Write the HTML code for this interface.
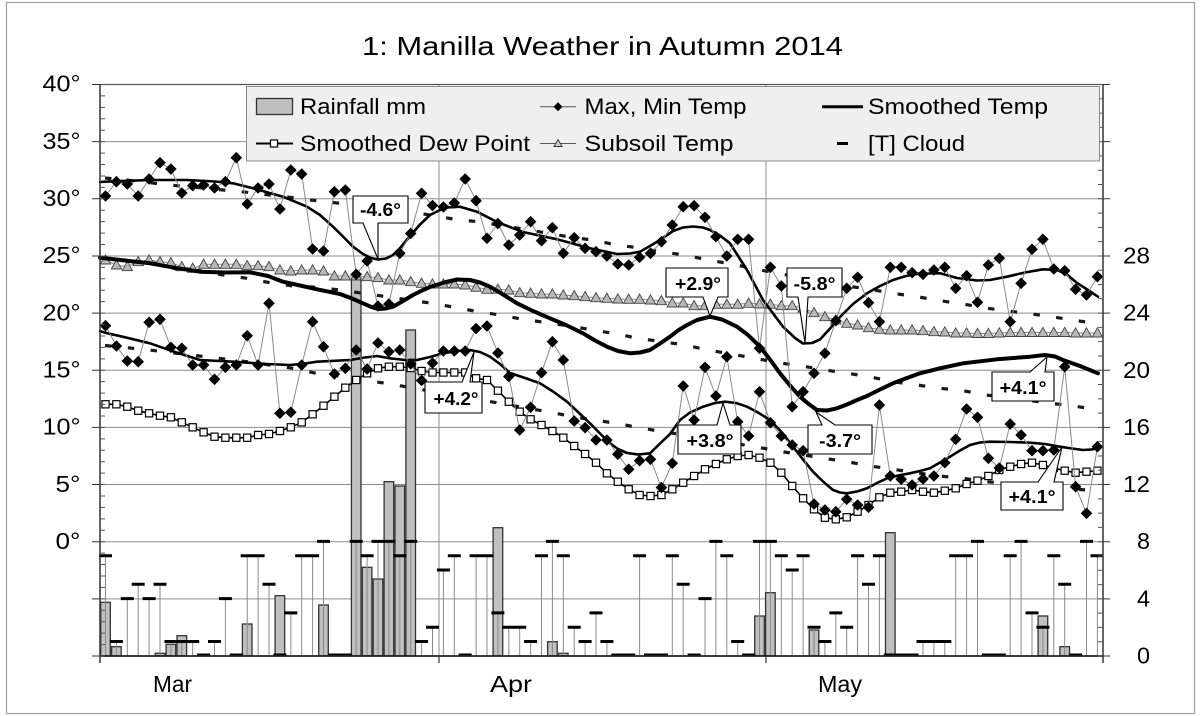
<!DOCTYPE html>
<html><head><meta charset="utf-8"><title>Manilla Weather in Autumn 2014</title>
<style>html,body{margin:0;padding:0;background:#fff}svg{display:block}text{font-family:"Liberation Sans",Arial,sans-serif;fill:#000}</style>
</head><body>
<svg width="1200" height="716" viewBox="0 0 1200 716" xmlns="http://www.w3.org/2000/svg">
<defs>
<marker id="mD" viewBox="-6 -6 12 12" refX="0" refY="0" markerWidth="12" markerHeight="12" markerUnits="userSpaceOnUse" orient="0" overflow="visible"><path d="M0,-5.8L5.8,0L0,5.8L-5.8,0Z" fill="#000"/></marker>
<marker id="mS" viewBox="-5 -5 10 10" refX="0" refY="0" markerWidth="10" markerHeight="10" markerUnits="userSpaceOnUse" orient="0" overflow="visible"><rect x="-3.6" y="-3.6" width="7.2" height="7.2" fill="#fff" stroke="#000" stroke-width="1.2"/></marker>
<marker id="mT" viewBox="-6 -6 12 12" refX="0" refY="0" markerWidth="12" markerHeight="12" markerUnits="userSpaceOnUse" orient="0" overflow="visible"><path d="M0,-5.2L5.2,4L-5.2,4Z" fill="#b8b8b8" stroke="#444" stroke-width="0.9"/></marker>
</defs>
<rect x="0" y="0" width="1200" height="716" fill="#fff"/>
<rect x="6.5" y="2.5" width="1188" height="711" fill="none" stroke="#a0a0a0" stroke-width="1.2"/>

<!-- gridlines -->
<g stroke="#8c8c8c" stroke-width="1" fill="none">
<path d="M100,141.65H1103M100,198.8H1103M100,255.95H1103M100,313.1H1103M100,370.25H1103M100,427.4H1103M100,484.55H1103M100,541.7H1103M100,598.85H1103"/>
<path d="M439,84.5V663M766,84.5V663"/>
</g>

<!-- rain bars -->
<g fill="#c0c0c0" stroke="#333" stroke-width="1.3">
<rect x="100.7" y="602.3" width="9.6" height="53.5"/>
<rect x="111.6" y="646.7" width="9.6" height="9.1"/>
<rect x="155.2" y="653.3" width="9.6" height="2.5"/>
<rect x="166.1" y="644.3" width="9.6" height="11.5"/>
<rect x="177" y="635.7" width="9.6" height="20.1"/>
<rect x="242.4" y="624" width="9.6" height="31.8"/>
<rect x="275.1" y="595.7" width="9.6" height="60.1"/>
<rect x="318.7" y="605" width="9.6" height="50.8"/>
<rect x="351.4" y="278" width="9.6" height="377.8"/>
<rect x="362.3" y="567.3" width="9.6" height="88.5"/>
<rect x="373.2" y="579" width="9.6" height="76.8"/>
<rect x="384.1" y="481.7" width="9.6" height="174.1"/>
<rect x="395" y="486" width="9.6" height="169.8"/>
<rect x="405.9" y="330" width="9.6" height="325.8"/>
<rect x="493.1" y="527.7" width="9.6" height="128.1"/>
<rect x="547.6" y="641.7" width="9.6" height="14.1"/>
<rect x="558.5" y="653.3" width="9.6" height="2.5"/>
<rect x="754.7" y="616" width="9.6" height="39.8"/>
<rect x="765.6" y="592.7" width="9.6" height="63.1"/>
<rect x="809.2" y="630" width="9.6" height="25.8"/>
<rect x="885.5" y="532.7" width="9.6" height="123.1"/>
<rect x="1038.1" y="616" width="9.6" height="39.8"/>
<rect x="1059.9" y="646.7" width="9.6" height="9.1"/>
</g>

<!-- cloud drop lines -->
<path fill="none" stroke="#8a8a8a" stroke-width="1" d="M105.5,555.7V656 M116.4,641.5V656 M127.3,598.6V656 M138.2,584.3V656 M149.1,598.6V656 M160,584.3V656 M170.9,641.5V656 M181.8,641.5V656 M192.7,641.5V656 M214.5,641.5V656 M225.4,598.6V656 M247.2,555.7V656 M258.1,555.7V656 M269,584.3V656 M290.8,612.9V656 M301.7,555.7V656 M312.6,555.7V656 M323.5,541.4V656 M356.2,541.4V656 M367.1,555.7V656 M378,541.4V656 M388.9,541.4V656 M399.8,555.7V656 M410.7,541.4V656 M421.6,641.5V656 M432.5,627.2V656 M443.4,570V656 M454.3,555.7V656 M476.1,555.7V656 M487,555.7V656 M497.9,612.9V656 M508.8,627.2V656 M519.7,627.2V656 M530.6,641.5V656 M541.5,555.7V656 M552.4,541.4V656 M563.3,555.7V656 M574.2,627.2V656 M585.1,641.5V656 M596,612.9V656 M606.9,641.5V656 M639.6,555.7V656 M672.3,555.7V656 M683.2,584.3V656 M705,598.6V656 M715.9,541.4V656 M726.8,555.7V656 M737.7,641.5V656 M759.5,541.4V656 M770.4,541.4V656 M781.3,555.7V656 M792.2,570V656 M803.1,555.7V656 M814,627.2V656 M824.9,641.5V656 M835.8,612.9V656 M846.7,627.2V656 M857.6,555.7V656 M868.5,584.3V656 M879.4,555.7V656 M923,641.5V656 M933.9,641.5V656 M944.8,641.5V656 M955.7,555.7V656 M966.6,555.7V656 M977.5,541.4V656 M1010.2,555.7V656 M1021.1,541.4V656 M1032,612.9V656 M1042.9,627.2V656 M1053.8,555.7V656 M1064.7,584.3V656 M1086.5,541.4V656 M1097.4,555.7V656"/>

<!-- cloud dashes -->
<path fill="none" stroke="#000" stroke-width="3" d="M99,555.7h13 M109.9,641.5h13 M120.8,598.6h13 M131.7,584.3h13 M142.6,598.6h13 M153.5,584.3h13 M164.4,641.5h13 M175.3,641.5h13 M186.2,641.5h13 M197.1,655h13 M208,641.5h13 M218.9,598.6h13 M229.8,655h13 M240.7,555.7h13 M251.6,555.7h13 M262.5,584.3h13 M273.4,655h13 M284.3,612.9h13 M295.2,555.7h13 M306.1,555.7h13 M317,541.4h13 M327.9,655h13 M338.8,655h13 M349.7,541.4h13 M360.6,555.7h13 M371.5,541.4h13 M382.4,541.4h13 M393.3,555.7h13 M404.2,541.4h13 M415.1,641.5h13 M426,627.2h13 M436.9,570h13 M447.8,555.7h13 M458.7,655h13 M469.6,555.7h13 M480.5,555.7h13 M491.4,612.9h13 M502.3,627.2h13 M513.2,627.2h13 M524.1,641.5h13 M535,555.7h13 M545.9,541.4h13 M556.8,555.7h13 M567.7,627.2h13 M578.6,641.5h13 M589.5,612.9h13 M600.4,641.5h13 M611.3,655h13 M622.2,655h13 M633.1,555.7h13 M644,655h13 M654.9,655h13 M665.8,555.7h13 M676.7,584.3h13 M687.6,655h13 M698.5,598.6h13 M709.4,541.4h13 M720.3,555.7h13 M731.2,641.5h13 M742.1,655h13 M753,541.4h13 M763.9,541.4h13 M774.8,555.7h13 M785.7,570h13 M796.6,555.7h13 M807.5,627.2h13 M818.4,641.5h13 M829.3,612.9h13 M840.2,627.2h13 M851.1,555.7h13 M862,584.3h13 M872.9,555.7h13 M883.8,655h13 M894.7,655h13 M905.6,655h13 M916.5,641.5h13 M927.4,641.5h13 M938.3,641.5h13 M949.2,555.7h13 M960.1,555.7h13 M971,541.4h13 M981.9,655h13 M992.8,655h13 M1003.7,555.7h13 M1014.6,541.4h13 M1025.5,612.9h13 M1036.4,627.2h13 M1047.3,555.7h13 M1058.2,584.3h13 M1069.1,655h13 M1080,541.4h13 M1090.5,555.7h12.5"/>

<!-- average dashed lines -->
<g fill="none" stroke="#1a1a1a" stroke-width="3.2" stroke-dasharray="6.5 16.4">
<path d="M105,178 L132,180.7 L155,183.3 L177,185.7 L200,187.7 L223,190 L247,192.3 L270,195 L293,197.7 L316,200.7 L340,203.3 L363,206.7 L410,211.7 L455,219.3 L478,221.7 L523,229 L568,236.7 L592,240 L617,245 L638,247.7 L662,252 L685,255 L708,260 L732,264 L755,269 L778,273.3 L847,286 L870,289.3 L893,293.3 L917,296.7 L940,300.7 L963,304 L986,308 L1008,311 L1032,314 L1055,317.3 L1077,320.7 L1100,324"/>
<path d="M105,258 L132,261.7 L155,263.3 L177,269.3 L200,270.7 L223,275 L247,278.3 L270,282.7 L293,286 L316,287.3 L340,290 L363,293.3 L432,303.3 L455,307.3 L478,311.7 L500,315 L523,319.3 L547,322.7 L570,326 L593,330 L617,334 L638,338.3 L685,345 L708,350 L755,358.3 L778,362.7 L802,366 L825,370 L848,373.3 L872,377.3 L893,381.7 L917,385 L940,388.3 L963,390.7 L986,395 L1078,406.7 L1100,410"/>
<path d="M105,345.5 L133,348.3 L155,350.7 L247,361.7 L270,365 L293,368.3 L316,373.3 L339,376 L363,380 L386,383.3 L500,403.3 L547,411.7 L570,416 L593,420 L617,423.3 L639,427.7 L663,431.7 L755,446.7 L778,451 L824,458.3 L847,461.7 L870,466 L893,469.3 L916,472.7 L939,476 L963,478.3 L986,481.7 L1078,489.3 L1100,491"/>
</g>

<!-- subsoil -->
<polyline fill="none" stroke="#8a8a8a" stroke-width="1" marker-start="url(#mT)" marker-mid="url(#mT)" marker-end="url(#mT)" points="105.5,260 116.4,265 127.3,266.7 138.2,261.7 149.1,260 160,261.7 170.9,262.7 181.8,266.7 192.7,268.3 203.6,264.3 214.5,264.3 225.4,264.3 236.3,264.3 247.2,265.7 258.1,265.7 269,266.7 279.9,270 290.8,271 301.7,270 312.6,270 323.5,271 334.4,276 345.3,276 356.2,276 367.1,276.7 378,277.7 388.9,280 399.8,280 410.7,281.7 421.6,283.3 432.5,284 443.4,284 454.3,284 465.2,285 476.1,287.3 487,289.3 497.9,289.3 508.8,290 519.7,292.7 530.6,293.3 541.5,294 552.4,294 563.3,295 574.2,295.7 585.1,296.7 596,297.7 606.9,298.3 617.8,299 628.7,299.3 639.6,299.3 650.5,300 661.4,300.7 672.3,303 683.2,303 694.1,305.7 705,305.7 715.9,304.3 726.8,304.3 737.7,304.3 748.6,303.3 759.5,304 770.4,304.3 781.3,305.7 792.2,305.7 803.1,308 814,312.7 824.9,316.7 835.8,320 846.7,323.3 857.6,325 868.5,327.7 879.4,329.3 890.3,330 901.2,330 912.1,330 923,330.7 933.9,331.7 944.8,332 955.7,333 966.6,333 977.5,333.5 988.4,333.5 999.3,333 1010.2,332.5 1021.1,332.5 1032,332.5 1042.9,332.5 1053.8,332.5 1064.7,332.5 1075.6,333 1086.5,333 1097.4,333"/>

<!-- dew point -->
<polyline fill="none" stroke="#000" stroke-width="1.6" marker-start="url(#mS)" marker-mid="url(#mS)" marker-end="url(#mS)" points="105.5,404.3 116.4,404.3 127.3,406.7 138.2,410.7 149.1,413.3 160,415.7 170.9,417.3 181.8,422.3 192.7,427.3 203.6,432.3 214.5,436.7 225.4,437.7 236.3,437.7 247.2,437.7 258.1,435 269,434 279.9,431 290.8,427.3 301.7,422.3 312.6,414.3 323.5,405.7 334.4,396.7 345.3,387.7 356.2,380 367.1,373.3 378,368.3 388.9,366.7 399.8,366.7 410.7,368 421.6,371 432.5,372.5 443.4,372.5 454.3,372.5 465.2,372.5 476.1,378.3 487,380 497.9,390.7 508.8,401.7 519.7,411.7 530.6,419.3 541.5,425 552.4,431 563.3,437.7 574.2,446 585.1,454 596,462.7 606.9,473.3 617.8,481.7 628.7,489.3 639.6,495 650.5,496 661.4,495 672.3,489.3 683.2,482.7 694.1,476 705,469.3 715.9,464 726.8,459.3 737.7,456 748.6,455 759.5,457.7 770.4,462.7 781.3,472.7 792.2,486 803.1,498.3 814,509.3 824.9,517.7 835.8,519.3 846.7,517.3 857.6,511.7 868.5,505 879.4,497.3 890.3,492.7 901.2,491.7 912.1,490 923,491.7 933.9,492.7 944.8,490.7 955.7,488.3 966.6,484 977.5,480.7 988.4,476 999.3,470 1010.2,466.7 1021.1,464 1032,462.7 1042.9,465 1053.8,468 1064.7,470.7 1075.6,472.7 1086.5,471.7 1097.4,470.7"/>

<!-- smoothed lines -->
<g fill="none" stroke="#000" stroke-linejoin="round" stroke-linecap="round">
<path stroke-width="2.6" d="M100,182 L105,181.7 L128,180.8 L150,180 L187,180 L215,181.5 L233,183.3 L253,188.3 L283,196.7 L307,206.7 L320,215 L333,226.7 L343,236.5 L353,246.7 L363,254 L371,258 L378,259.5 L386,258.5 L393,255 L401,247 L410,236 L420,224.5 L430,215 L440,210 L447,207.5 L460,206.7 L477,211.7 L497,222 L523,232 L557,239.3 L590,248.3 L617,254 L630,253.5 L640,251.7 L650,246 L660,240 L673,231 L683,227.5 L693,226.5 L703,227.5 L710,230 L720,235.5 L730,243.3 L747,270 L763,300 L783,326.7 L795,338 L803,343.5 L812,343 L820,339.5 L830,328.5 L840,317 L853,304 L867,293.3 L880,286 L893,280 L906,276 L920,273.3 L940,273.3 L957,278 L977,280.5 L990,280 L1007,276.7 L1025,272.5 L1043,269.3 L1057,270 L1067,274.5 L1077,283 L1088,290 L1098,296.7"/>
<path stroke-width="4" d="M100,257.7 L125,260.5 L150,263.3 L175,267.8 L200,271.7 L225,272.5 L250,272.3 L268,276 L283,281.7 L300,285.5 L317,289.3 L340,294 L352,298.5 L363,303.3 L371,306.8 L378,309 L386,308.5 L393,306.7 L403,301 L413,295 L422,290.5 L430,287 L444,282.5 L457,279.5 L470,280 L480,282.5 L490,286.7 L503,294.5 L517,303.3 L533,311 L550,318.3 L567,325.5 L583,333.3 L595,340.5 L607,346.7 L618,351 L630,353.3 L640,352.5 L650,350 L660,343.5 L670,336.7 L678,330.5 L687,325 L697,320 L710,316.7 L722,319.5 L737,326.7 L748,335 L760,346.7 L770,359.5 L780,373.3 L790,385.5 L800,396.7 L808,403.5 L817,410 L827,410.5 L837,408.3 L847,404.5 L857,400 L867,396 L880,389.5 L893,383.3 L907,378 L920,373.3 L940,368.3 L963,363.3 L997,359.3 L1030,356.7 L1045,355 L1055,356.5 L1063,360 L1080,366 L1098,373.3"/>
<path stroke-width="2.6" d="M100,331 L105,332.7 L128,338 L150,343.3 L175,352 L200,360 L233,361.7 L267,364 L290,365 L305,363.5 L317,361.7 L350,360 L365,357.5 L377,356 L390,358.3 L405,360 L417,360 L430,357 L443,353.3 L457,351 L470,350 L480,352 L490,356.7 L500,364 L510,373 L525,378 L540,383.3 L553,391.5 L567,401.7 L578,412 L590,423.3 L600,433.5 L610,443.3 L618,449 L627,453 L638,454.5 L650,453.3 L660,443.5 L670,434 L680,420 L690,412.5 L703,406.7 L715,403 L725,401.7 L736,403 L747,406.7 L758,412.5 L770,420 L782,432.5 L793,446.7 L803,459.5 L813,471.7 L823,481.5 L833,490 L840,492.5 L847,493.3 L857,491.5 L867,488.3 L877,483 L887,478.3 L898,475.5 L910,473.3 L920,471 L930,468.3 L940,462.5 L950,456.7 L960,450.5 L970,445 L980,442.5 L990,441.7 L1010,442 L1030,442.7 L1045,444 L1060,446.7 L1072,448.5 L1083,450 L1091,449.5 L1098,448.3"/>
</g>

<!-- max & min temps -->
<polyline fill="none" stroke="#8a8a8a" stroke-width="1" marker-start="url(#mD)" marker-mid="url(#mD)" marker-end="url(#mD)" points="105.5,196 116.4,181.7 127.3,184 138.2,196 149.1,179 160,162.7 170.9,169 181.8,193 192.7,185.7 203.6,185 214.5,188 225.4,181.7 236.3,157.7 247.2,204 258.1,188 269,184 279.9,209 290.8,170 301.7,174 312.6,249 323.5,251 334.4,191.7 345.3,190 356.2,274.3 367.1,261 378,306 388.9,304 399.8,253.3 410.7,233.5 421.6,193.3 432.5,205.5 443.4,207 454.3,203 465.2,179 476.1,200.7 487,238.3 497.9,223.5 508.8,245 519.7,235 530.6,221.7 541.5,240.7 552.4,227.7 563.3,253.3 574.2,237.7 585.1,248.3 596,251.7 606.9,256 617.8,264 628.7,265 639.6,257.3 650.5,253.3 661.4,241.7 672.3,225 683.2,206.7 694.1,205.7 705,217.3 715.9,236.7 726.8,256 737.7,239.3 748.6,239.3 759.5,348.3 770.4,267.3 781.3,286 792.2,406.7 803.1,391.7 814,373.3 824.9,353.3 835.8,320.7 846.7,288.3 857.6,277.3 868.5,302.7 879.4,321.7 890.3,267.3 901.2,267.3 912.1,272.7 923,274.3 933.9,270 944.8,267.3 955.7,288.3 966.6,275.7 977.5,302.3 988.4,265 999.3,258.3 1010.2,321.7 1021.1,283.3 1032,249.3 1042.9,239.3 1053.8,269 1064.7,270.7 1075.6,289.3 1086.5,295 1097.4,276.7"/>
<polyline fill="none" stroke="#8a8a8a" stroke-width="1" marker-start="url(#mD)" marker-mid="url(#mD)" marker-end="url(#mD)" points="105.5,325.7 116.4,346 127.3,361 138.2,361.7 149.1,322.3 160,319.3 170.9,347.3 181.8,348.3 192.7,365 203.6,365 214.5,379.3 225.4,367.3 236.3,365 247.2,335.7 258.1,365 269,303.3 279.9,413.3 290.8,412.3 301.7,365 312.6,321.7 323.5,346.7 334.4,374 345.3,368.3 356.2,350 367.1,369 378,343 388.9,351.7 399.8,350 410.7,364 421.6,380.5 432.5,363 443.4,351 454.3,351 465.2,351 476.1,328.5 487,326 497.9,353 508.8,376.5 519.7,430 530.6,407.3 541.5,372.7 552.4,341.7 563.3,360 574.2,421 585.1,427.7 596,440 606.9,440 617.8,454.3 628.7,469.3 639.6,460.7 650.5,459.3 661.4,487.5 672.3,463.3 683.2,386 694.1,420 705,367.3 715.9,396 726.8,356.7 737.7,421.7 748.6,436 759.5,391.7 770.4,422.7 781.3,436 792.2,445 803.1,450.7 814,504 824.9,510 835.8,511.7 846.7,499.3 857.6,505 868.5,507.3 879.4,405 890.3,476 901.2,479.3 912.1,485 923,479 933.9,476 944.8,462.7 955.7,439.3 966.6,409 977.5,417.3 988.4,458.3 999.3,468 1010.2,424 1021.1,435 1032,450.7 1042.9,450.7 1053.8,450 1064.7,366.7 1075.6,486.7 1086.5,513.3 1097.4,446.7"/>

<!-- axes & ticks -->
<g fill="none">
<path d="M100,84.5H1103" stroke="#555" stroke-width="1.2"/>
<path d="M100,84.5V663" stroke="#333" stroke-width="1.5"/>
<path d="M1103,84.5V663" stroke="#333" stroke-width="1.5"/>
<path d="M100,656H1103" stroke="#222" stroke-width="1.8"/>
<path d="M102.5,84V657" stroke="#555" stroke-width="5" stroke-dasharray="1 10.43"/>
<path d="M96,84V657" stroke="#333" stroke-width="8" stroke-dasharray="1 56.15"/>
<path d="M1100.5,656.5V84" stroke="#555" stroke-width="5" stroke-dasharray="1 13.2875"/>
<path d="M1106.5,656.5V84" stroke="#333" stroke-width="7" stroke-dasharray="1 56.15"/>
<path d="M439,656V663M766,656V663" stroke="#333" stroke-width="1.2"/>
</g>

<!-- callouts -->
<g fill="#fff" stroke="#000" stroke-width="1.1" stroke-linejoin="miter">
<path d="M353,196H408V223H378L378,259L363,223H353Z"/>
<path d="M425,382H462L474,352L470,382H482V413H425Z"/>
<path d="M666,268H728V297H718L710,316L703,297H666Z"/>
<path d="M787,268H842V297H808L805,343L798,297H787Z"/>
<path d="M678,425H717L723,403L730,425H741V454H678Z"/>
<path d="M808,425H822L816,412L835,425H872V454H808Z"/>
<path d="M992,372H1030L1047,357L1045,372H1054V401H992Z"/>
<path d="M1001,482H1038L1062,447L1054,482H1063V510H1001Z"/>
</g>
<g font-size="18" font-weight="bold" text-anchor="middle">
<text x="380.5" y="216" textLength="41" lengthAdjust="spacingAndGlyphs">-4.6°</text>
<text x="456" y="405" textLength="45" lengthAdjust="spacingAndGlyphs">+4.2°</text>
<text x="698" y="290" textLength="46" lengthAdjust="spacingAndGlyphs">+2.9°</text>
<text x="814.5" y="290" textLength="42" lengthAdjust="spacingAndGlyphs">-5.8°</text>
<text x="710" y="447" textLength="47" lengthAdjust="spacingAndGlyphs">+3.8°</text>
<text x="840" y="447" textLength="42" lengthAdjust="spacingAndGlyphs">-3.7°</text>
<text x="1023" y="394" textLength="47" lengthAdjust="spacingAndGlyphs">+4.1°</text>
<text x="1032" y="503" textLength="47" lengthAdjust="spacingAndGlyphs">+4.1°</text>
</g>

<!-- legend -->
<rect x="246.5" y="86.5" width="853" height="74.5" fill="#efefef" stroke="#8a8a8a" stroke-width="1"/>
<rect x="256.5" y="98.5" width="36" height="16" fill="#c0c0c0" stroke="#333" stroke-width="1.3"/>
<path d="M540,106.7H576" stroke="#555" stroke-width="1"/>
<path d="M558,102.2L562.5,106.7L558,111.2L553.5,106.7Z" fill="#000"/>
<path d="M822,106.7H863" stroke="#000" stroke-width="3"/>
<path d="M256,143.5H293" stroke="#000" stroke-width="2"/>
<rect x="270.5" y="140" width="7" height="7" fill="#fff" stroke="#000" stroke-width="1.2"/>
<path d="M540,143.5H576" stroke="#555" stroke-width="1"/>
<path d="M558,139.5L562,146.5L554,146.5Z" fill="#d0d0d0" stroke="#333" stroke-width="0.9"/>
<path d="M837,143.5H848" stroke="#000" stroke-width="3"/>
<g font-size="22">
<text x="300" y="114" textLength="126" lengthAdjust="spacingAndGlyphs">Rainfall mm</text>
<text x="584.5" y="114" textLength="162" lengthAdjust="spacingAndGlyphs">Max, Min Temp</text>
<text x="868" y="114" textLength="180" lengthAdjust="spacingAndGlyphs">Smoothed Temp</text>
<text x="300" y="151" textLength="230" lengthAdjust="spacingAndGlyphs">Smoothed Dew Point</text>
<text x="584.5" y="151" textLength="149" lengthAdjust="spacingAndGlyphs">Subsoil Temp</text>
<text x="868" y="151" textLength="97" lengthAdjust="spacingAndGlyphs">[T] Cloud</text>
</g>

<!-- title -->
<text x="362" y="55" font-size="26" textLength="481" lengthAdjust="spacingAndGlyphs">1: Manilla Weather in Autumn 2014</text>

<!-- left axis labels -->
<g font-size="23">
<text x="42.5" y="91.7" textLength="38" lengthAdjust="spacingAndGlyphs">40°</text>
<text x="42.5" y="148.9" textLength="38" lengthAdjust="spacingAndGlyphs">35°</text>
<text x="42.5" y="206" textLength="38" lengthAdjust="spacingAndGlyphs">30°</text>
<text x="42.5" y="263.2" textLength="38" lengthAdjust="spacingAndGlyphs">25°</text>
<text x="42.5" y="320.3" textLength="38" lengthAdjust="spacingAndGlyphs">20°</text>
<text x="42.5" y="377.5" textLength="38" lengthAdjust="spacingAndGlyphs">15°</text>
<text x="42.5" y="434.6" textLength="38" lengthAdjust="spacingAndGlyphs">10°</text>
<text x="55.5" y="491.8" textLength="25" lengthAdjust="spacingAndGlyphs">5°</text>
<text x="55.5" y="548.9" textLength="25" lengthAdjust="spacingAndGlyphs">0°</text>
</g>
<!-- right axis labels -->
<g font-size="23">
<text x="1123" y="263.5" textLength="27" lengthAdjust="spacingAndGlyphs">28</text>
<text x="1123" y="320.6" textLength="27" lengthAdjust="spacingAndGlyphs">24</text>
<text x="1123" y="377.8" textLength="27" lengthAdjust="spacingAndGlyphs">20</text>
<text x="1123" y="434.9" textLength="27" lengthAdjust="spacingAndGlyphs">16</text>
<text x="1123" y="492" textLength="27" lengthAdjust="spacingAndGlyphs">12</text>
<text x="1137" y="549.2" textLength="13" lengthAdjust="spacingAndGlyphs">8</text>
<text x="1137" y="606.4" textLength="13" lengthAdjust="spacingAndGlyphs">4</text>
<text x="1137" y="663.5" textLength="13" lengthAdjust="spacingAndGlyphs">0</text>
</g>
<!-- month labels -->
<g font-size="23">
<text x="153" y="692" textLength="39" lengthAdjust="spacingAndGlyphs">Mar</text>
<text x="490" y="692" textLength="42" lengthAdjust="spacingAndGlyphs">Apr</text>
<text x="818" y="692" textLength="44" lengthAdjust="spacingAndGlyphs">May</text>
</g>
</svg>
</body></html>
